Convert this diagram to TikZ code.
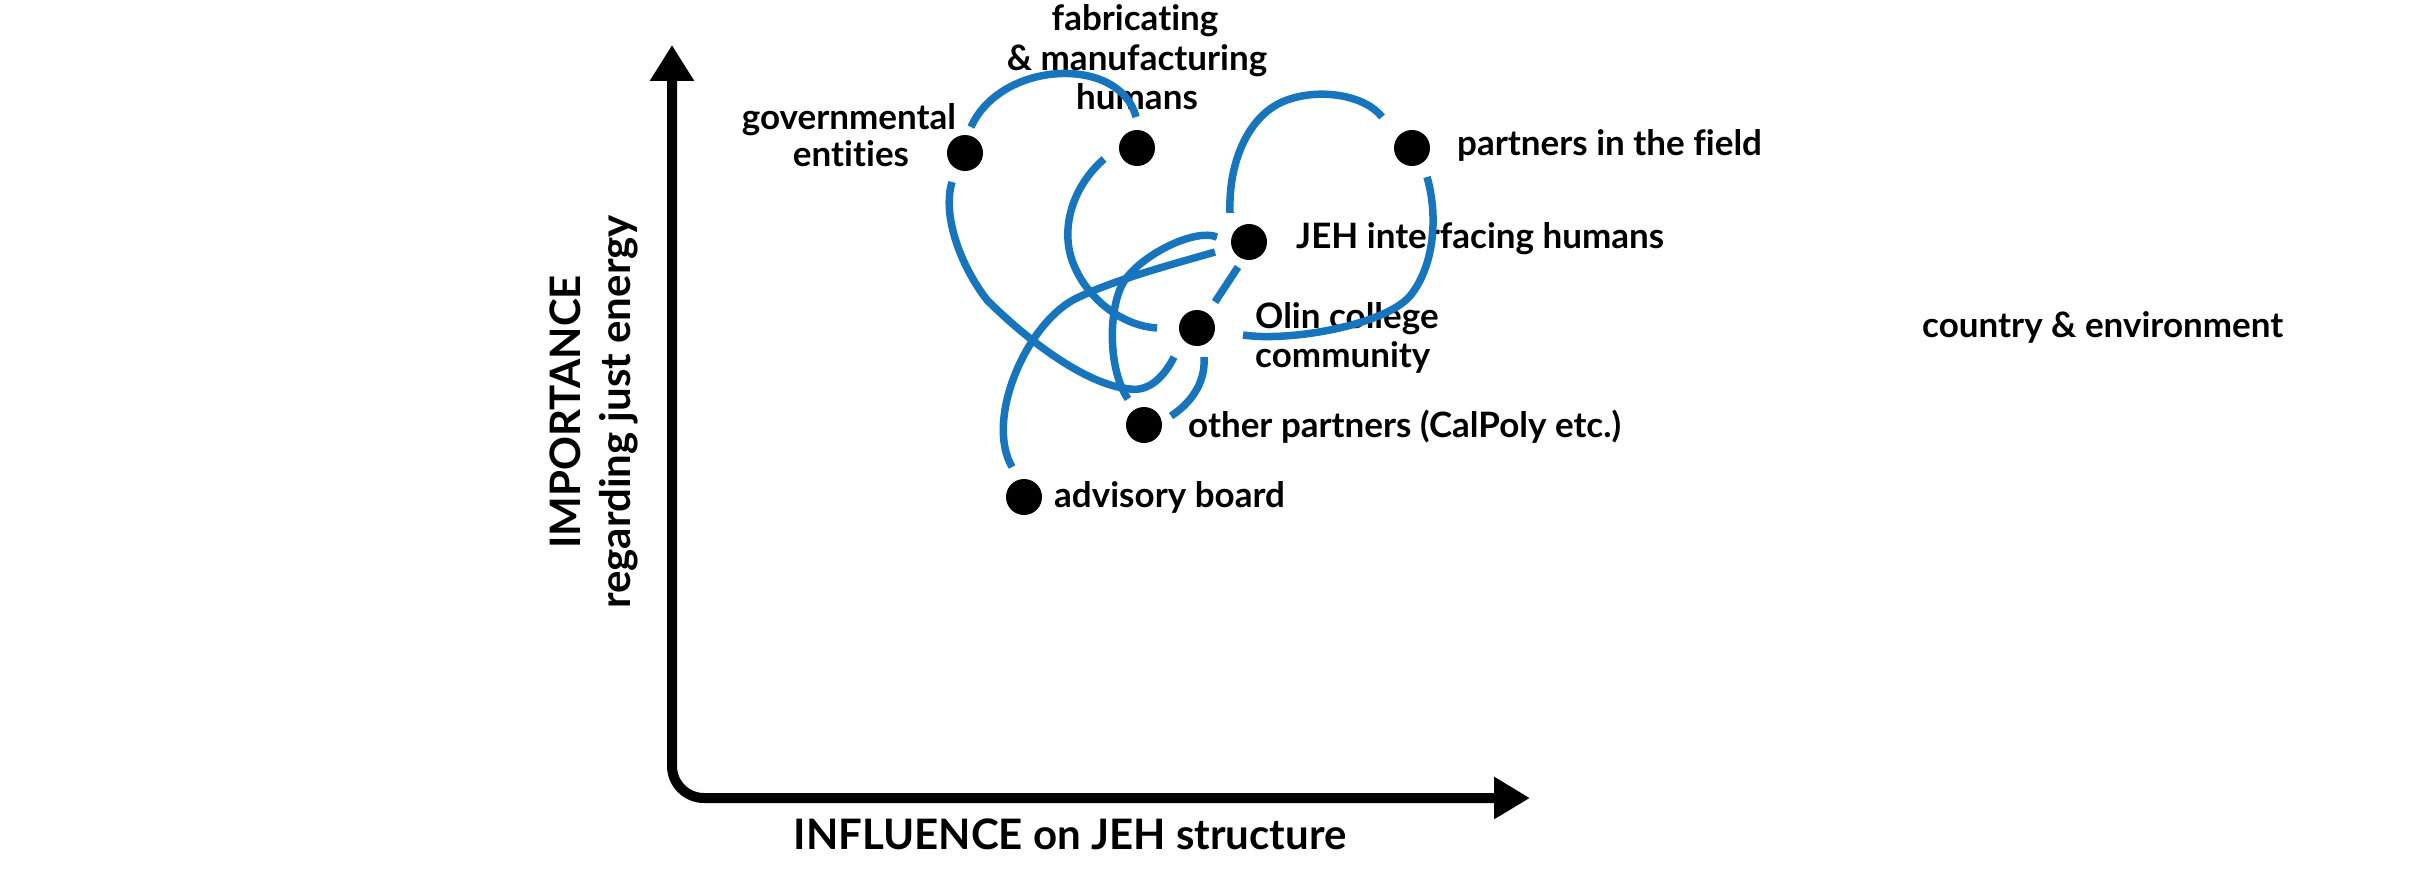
\documentclass[tikz,border=0pt]{standalone}
\usepackage{fontspec}
\setmainfont{Lato}[Ligatures={NoCommon,NoContextual}]
\usetikzlibrary{calc,arrows.meta}
\definecolor{linkblue}{RGB}{22,117,188}
\begin{document}
\begin{tikzpicture}[x=1pt,y=-1pt,
  dot/.style={circle, fill=black, inner sep=0pt, minimum size=36pt},
  lab/.style={font=\fontsize{35}{42}\selectfont\bfseries, inner sep=0pt},
  axislab/.style={font=\fontsize{42}{50}\selectfont\bfseries, inner sep=0pt},
  link/.style={draw=linkblue, line width=7.5pt},
  axisline/.style={line width=10pt, rounded corners=32pt}]
\useasboundingbox (0,0) rectangle (2416,880);
% axes
\coordinate (ytop) at (672,45);
\coordinate (orig) at (672,798);
\coordinate (xend) at (1530,798);
\draw[axisline, {Triangle[length=36pt,width=42pt]}-{Triangle[length=36pt,width=40pt]}] (ytop) -- (orig) -- (xend);
\node[axislab, anchor=base] (xlab) at (1070,849) {INFLUENCE on JEH structure};
\node[axislab, anchor=base, rotate=90] (ylab1) at (580,412) {IMPORTANCE};
\node[axislab, anchor=base, rotate=90] (ylab2) at (630,412) {regarding just energy};
% dots
\node[dot] (gov) at (965,153) {};
\node[dot] (fab) at (1137,148) {};
\node[dot] (par) at (1412,148) {};
\node[dot] (jeh) at (1249,242) {};
\node[dot] (olin) at (1197,328) {};
\node[dot] (oth) at (1144,425) {};
\node[dot] (adv) at (1024,497) {};
% labels
\node[lab, anchor=base] (govl1) at (849,130) {governmental};
\node[lab, anchor=base] (govl2) at (851,166) {entities};
\node[lab, anchor=base] (fabl1) at (1135,31) {fabricating};
\node[lab, anchor=base] (fabl2) at (1137,71) {\& manufacturing};
\node[lab, anchor=base] (fabl3) at (1137,110) {humans};
\node[lab, anchor=base west] (parl) at (1457,155) {partners in the field};
\node[lab, anchor=base west] (jehl) at (1296,248) {JEH interfacing humans};
\node[lab, anchor=base west] (olinl1) at (1255,328) {Olin college};
\node[lab, anchor=base west] (olinl2) at (1255,367) {community};
\node[lab, anchor=base west] (othl) at (1188,437) {other partners (CalPoly etc.)};
\node[lab, anchor=base west] (advl) at (1054,507) {advisory board};
\node[lab, anchor=base west] (ctry) at (1922,337) {country \& environment};
% links
\draw[link] ($(gov)+(6,-26)$) .. controls (1001,60) and (1120,55) .. ($(fab)+(-1,-31)$);
\draw[link] ($(gov)+(-13,29)$) .. controls (942,215) and (960,265) .. (987,300)
  .. controls (1025,338) and (1085,385) .. (1130,389)
  .. controls (1150,392) and (1165,375) .. ($(olin)+(-23,29)$);
\draw[link] ($(fab)+(-33,11)$) .. controls (1080,180) and (1066,210) .. (1068,240)
  .. controls (1070,280) and (1110,325) .. ($(olin)+(-40,0)$);
\draw[link] ($(jeh)+(-19,-29)$) .. controls (1228,160) and (1250,113) .. (1287,100)
  .. controls (1320,88) and (1365,95) .. ($(par)+(-30,-31)$);
\draw[link] ($(par)+(15,29)$) .. controls (1438,215) and (1435,265) .. (1410,296)
  .. controls (1385,325) and (1290,342) .. ($(olin)+(46,7)$);
\draw[link] ($(jeh)+(-32,-5)$) .. controls (1195,228) and (1140,255) .. (1123,283)
  .. controls (1108,310) and (1108,370) .. ($(oth)+(-16,-26)$);
\draw[link] ($(jeh)+(-34,10)$) .. controls (1170,265) and (1110,281) .. (1073,300)
  .. controls (1025,327) and (985,420) .. ($(adv)+(-12,-30)$);
\draw[link] ($(jeh)+(-11,25)$) -- ($(olin)+(18,-26)$);
\draw[link] ($(olin)+(7,29)$) .. controls (1206,385) and (1188,405) .. ($(oth)+(27,-9)$);
\end{tikzpicture}
\end{document}
